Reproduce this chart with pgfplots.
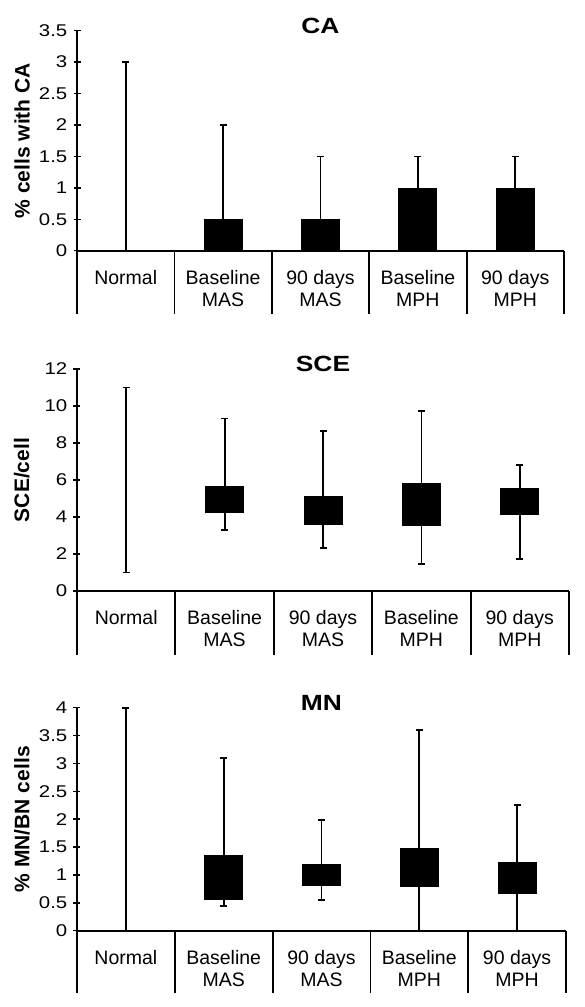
\documentclass[border=0pt]{standalone}
\usepackage{fontspec}
\setmainfont{Liberation Sans}
\newfontfamily\tickfont{Liberation Sans}[FakeStretch=1.2]
\newfontfamily\titlefont{Liberation Sans}[FakeStretch=1.2]
\usepackage{pgfplots}
\pgfplotsset{compat=1.18}
\pgfplotsset{
  panel/.style={
    scale only axis,
    xmin=0, xmax=5, ymin=0,
    axis x line*=bottom, axis y line*=left,
    axis line style={-, line width=1.8pt, black},
    clip=false,
    /pgf/number format/assume math mode=true,
    xtick={0.5,1.5,2.5,3.5,4.5},
    xticklabels={Normal,Baseline,90 days,Baseline,90 days},
    extra x ticks={0.5,1.5,2.5,3.5,4.5},
    extra x tick labels={{},MAS,MAS,MPH,MPH},
    extra x tick style={major tick length=0pt, tick style={draw=none}, xticklabel style={yshift=-25.5pt}},
    x tick style={draw=none},
    xticklabel style={font=\fontsize{19.5}{19.5}\selectfont, anchor=base, inner sep=0pt, yshift=-30pt},
    tick align=center,
    major tick length=7pt,
    y tick style={line width=1.5pt, black},
    yticklabel style={font=\tickfont\fontsize{17}{17}\selectfont, anchor=east, inner sep=0pt, xshift=-6pt},
    ylabel style={at={(axis description cs:-0.1125,0.5)}, anchor=center, font=\bfseries\fontsize{21}{21}\selectfont},
    every axis title shift=0pt,
    title style={at={(axis description cs:0.5,1)}, anchor=base, yshift=-2.6pt, inner sep=0pt, font=\titlefont\bfseries\fontsize{22}{22}\selectfont},
  },
  whisk/.style={black, line width=1.8pt, mark=-, mark size=3.5pt, mark options={line width=1.8pt}},
  box/.style={black, line width=39pt, mark=none},
}
\begin{document}
\begin{tikzpicture}[x=1pt,y=1pt]
\path[use as bounding box] (0,0) rectangle (584,-1007);

% ---------------- CA ----------------
\begin{axis}[panel, at={(77pt,-250.7pt)}, anchor=south west, width=487pt, height=220pt,
  ymax=3.5, ytick={0,0.5,1,1.5,2,2.5,3,3.5},
  title={CA}, ylabel={\% cells with CA}]
\addplot[whisk] coordinates {(0.5,0) (0.5,3)};
\addplot[whisk] coordinates {(1.5,0) (1.5,2)};
\addplot[whisk] coordinates {(2.5,0) (2.5,1.5)};
\addplot[whisk] coordinates {(3.5,0) (3.5,1.5)};
\addplot[whisk] coordinates {(4.5,0) (4.5,1.5)};
\addplot[box] coordinates {(1.5,0) (1.5,0.5)};
\addplot[box] coordinates {(2.5,0) (2.5,0.5)};
\addplot[box] coordinates {(3.5,0) (3.5,1)};
\addplot[box] coordinates {(4.5,0) (4.5,1)};
\draw[line width=1.8pt] (axis cs:0,0) -- ([yshift=-63pt]axis cs:0,0);
\draw[line width=1.8pt] (axis cs:1,0) -- ([yshift=-63pt]axis cs:1,0);
\draw[line width=1.8pt] (axis cs:2,0) -- ([yshift=-63pt]axis cs:2,0);
\draw[line width=1.8pt] (axis cs:3,0) -- ([yshift=-63pt]axis cs:3,0);
\draw[line width=1.8pt] (axis cs:4,0) -- ([yshift=-63pt]axis cs:4,0);
\draw[line width=1.8pt] (axis cs:5,0) -- ([yshift=-63pt]axis cs:5,0);
\end{axis}

% ---------------- SCE ----------------
\begin{axis}[panel, at={(77pt,-591pt)}, anchor=south west, width=492pt, height=222pt,
  ymax=12, ytick={0,2,4,6,8,10,12},
  title={SCE}, ylabel={SCE/cell}]
\addplot[whisk] coordinates {(0.5,1) (0.5,11)};
\addplot[whisk] coordinates {(1.5,3.3) (1.5,9.32)};
\addplot[whisk] coordinates {(2.5,2.31) (2.5,8.65)};
\addplot[whisk] coordinates {(3.5,1.46) (3.5,9.73)};
\addplot[whisk] coordinates {(4.5,1.71) (4.5,6.79)};
\addplot[box] coordinates {(1.5,4.2) (1.5,5.66)};
\addplot[box] coordinates {(2.5,3.59) (2.5,5.15)};
\addplot[box] coordinates {(3.5,3.5) (3.5,5.84)};
\addplot[box] coordinates {(4.5,4.09) (4.5,5.55)};
\draw[line width=1.8pt] (axis cs:0,0) -- ([yshift=-64pt]axis cs:0,0);
\draw[line width=1.8pt] (axis cs:1,0) -- ([yshift=-64pt]axis cs:1,0);
\draw[line width=1.8pt] (axis cs:2,0) -- ([yshift=-64pt]axis cs:2,0);
\draw[line width=1.8pt] (axis cs:3,0) -- ([yshift=-64pt]axis cs:3,0);
\draw[line width=1.8pt] (axis cs:4,0) -- ([yshift=-64pt]axis cs:4,0);
\draw[line width=1.8pt] (axis cs:5,0) -- ([yshift=-64pt]axis cs:5,0);
\end{axis}

% ---------------- MN ----------------
\begin{axis}[panel, at={(77pt,-930.7pt)}, anchor=south west, width=489pt, height=223pt,
  ymax=4, ytick={0,0.5,1,1.5,2,2.5,3,3.5,4},
  title={MN}, ylabel={\% MN/BN cells}]
\addplot[whisk] coordinates {(0.5,0) (0.5,4)};
\addplot[whisk] coordinates {(1.5,0.45) (1.5,3.1)};
\addplot[whisk] coordinates {(2.5,0.55) (2.5,1.99)};
\addplot[whisk] coordinates {(3.5,0) (3.5,3.6)};
\addplot[whisk] coordinates {(4.5,0) (4.5,2.25)};
\addplot[box] coordinates {(1.5,0.556) (1.5,1.36)};
\addplot[box] coordinates {(2.5,0.795) (2.5,1.196)};
\addplot[box] coordinates {(3.5,0.78) (3.5,1.49)};
\addplot[box] coordinates {(4.5,0.65) (4.5,1.23)};
\draw[line width=1.8pt] (axis cs:0,0) -- ([yshift=-62.3pt]axis cs:0,0);
\draw[line width=1.8pt] (axis cs:1,0) -- ([yshift=-62.3pt]axis cs:1,0);
\draw[line width=1.8pt] (axis cs:2,0) -- ([yshift=-62.3pt]axis cs:2,0);
\draw[line width=1.8pt] (axis cs:3,0) -- ([yshift=-62.3pt]axis cs:3,0);
\draw[line width=1.8pt] (axis cs:4,0) -- ([yshift=-62.3pt]axis cs:4,0);
\draw[line width=1.8pt] (axis cs:5,0) -- ([yshift=-62.3pt]axis cs:5,0);
\end{axis}
\end{tikzpicture}
\end{document}
